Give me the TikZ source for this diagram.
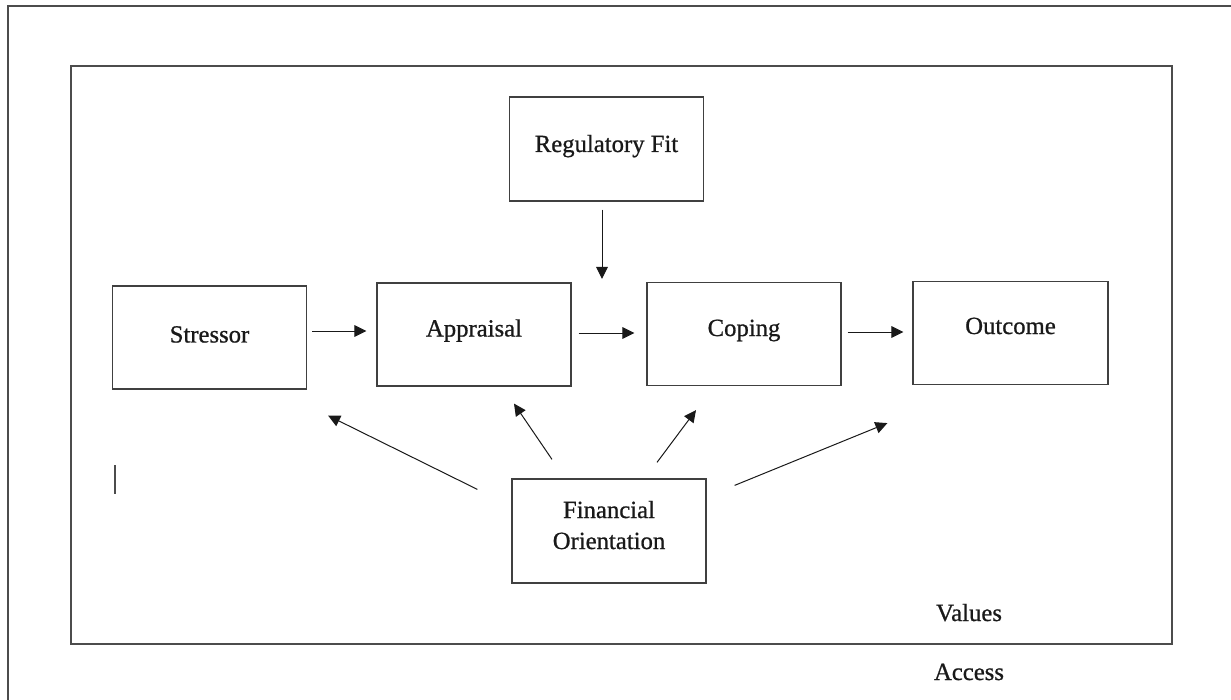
\documentclass[tikz,border=0pt]{standalone}
\usepackage{fontspec}
\setmainfont{Liberation Serif}
\newfontfamily\capfont{Liberation Serif}[FakeBold=0.8]
\usetikzlibrary{arrows.meta,calc}
\begin{document}
\begin{tikzpicture}[x=0.5pt,y=-0.5pt,
  frame/.style={draw=black!70, line width=0.65pt},
  box/.style={draw=black!75, line width=0.6pt, minimum width=97pt, minimum height=51.5pt, inner sep=0pt},
  lbl/.style={anchor=base, font=\capfont\fontsize{12.35}{15}\selectfont, text=black!90, inner sep=0pt},
  arr/.style={draw=black!90, line width=0.5pt, -{Triangle[length=6pt,width=5.8pt]}}]
\useasboundingbox (0,0) rectangle (1231,700);

% page rules and the enclosing frame
\draw[frame] (8,700) -- (8,6) -- (1231,6);
\draw[frame] (71,66) rectangle (1172,644);
\draw[frame] (115,465) -- (115,494);

% model boxes
\node[box] (stressor) at (209.5,337.5) {};
\node[box] (appraisal) at (474,334.5) {};
\node[box] (coping) at (744,334) {};
\node[box, minimum width=97.5pt] (outcome) at (1010.5,333) {};
\node[box, minimum height=52pt] (fit) at (606.5,149) {};
\node[box, minimum height=52pt] (fin) at (609,531) {};

% box captions
\node[lbl] (stressorT) at ([yshift=-2.5pt]stressor.center) {Stressor};
\node[lbl] (appraisalT) at ([yshift=-1pt]appraisal.center) {Appraisal};
\node[lbl] (copingT) at ([yshift=-1pt]coping.center) {Coping};
\node[lbl] (outcomeT) at ([yshift=-0.5pt]outcome.center) {Outcome};
\node[lbl] (fitT) at ([yshift=-1.5pt]fit.center) {Regulatory Fit};
\node[lbl] (finT1) at ([yshift=6.5pt]fin.center) {Financial};
\node[lbl] (finT2) at ([yshift=-9pt]fin.center) {Orientation};

% free-standing words
\node[lbl] (values) at (969,621) {Values};
\node[lbl] (access) at (969,680) {Access};

% main causal chain
\draw[arr] ([xshift=2.5pt,yshift=3.25pt]stressor.east) -- ([xshift=-5pt,yshift=1.75pt]appraisal.west);
\draw[arr] ([xshift=3.5pt,yshift=0.75pt]appraisal.east) -- ([xshift=-6pt,yshift=0.5pt]coping.west);
\draw[arr] ([xshift=3pt,yshift=1pt]coping.east) -- ([xshift=-4.5pt,yshift=0.5pt]outcome.west);

% moderator from above
\coordinate (fitend) at (602,279);
\draw[arr] ([xshift=-2.25pt,yshift=-4pt]fit.south) -- (fitend);

% moderator from below
\draw[arr] ([xshift=-17pt,yshift=-5.5pt]fin.north west) -- ([xshift=10.5pt,yshift=-13pt]stressor.south east);
\draw[arr] ([xshift=-28.5pt,yshift=9.5pt]fin.north) -- ([xshift=20pt,yshift=-8.5pt]appraisal.south);
\draw[arr] ([xshift=24pt,yshift=8pt]fin.north) -- ([xshift=-24pt,yshift=-12pt]coping.south);
\draw[arr] ([xshift=14pt,yshift=-3.5pt]fin.north east) -- ([xshift=-12.5pt,yshift=-19pt]outcome.south west);
\end{tikzpicture}
\end{document}
